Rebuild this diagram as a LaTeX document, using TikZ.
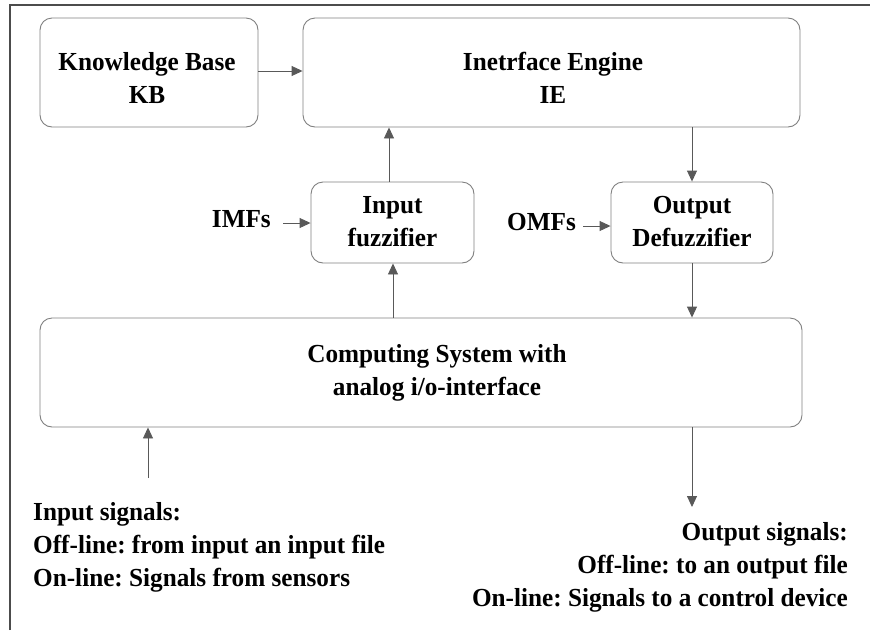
\documentclass[tikz,border=0pt]{standalone}
\usepackage{fontspec}
\setmainfont{Liberation Serif}[FakeStretch=0.97]
\usetikzlibrary{arrows.meta}
\frenchspacing
\tikzset{
  blk/.style={draw=black!50, line width=0.9pt, rounded corners=12pt, fill=white,
    inner sep=0pt, align=center},
  lbl/.style={inner sep=0pt, font=\bfseries\fontsize{26}{33}\selectfont},
  conn/.style={draw=black!65, line width=0.9pt, -{Triangle[length=11pt,width=10pt]}},
  frame/.style={draw=black!70, line width=1.2pt}
}
\begin{document}
\begin{tikzpicture}[x=1pt,y=-1pt]
  \useasboundingbox (0,0) rectangle (870,630);
  % partial outer frame
  \draw[frame] (10,630) -- (10,5) -- (870,5);

  % blocks
  \node[blk, minimum width=218pt, minimum height=109pt] (kb) at (149,72.5) {};
  \node[lbl, align=center] (kbt) at (147,78) {Knowledge Base\\KB};
  \node[blk, minimum width=497pt, minimum height=109pt] (ie) at (551.5,72.5) {};
  \node[lbl, align=center] (iet) at (553,78) {Inetrface Engine\\IE};
  \node[blk, minimum width=163pt, minimum height=81pt] (if) at (392.5,222.5) {};
  \node[lbl, align=center] (ift) at (392.5,222) {Input\\fuzzifier};
  \node[blk, minimum width=162pt, minimum height=81pt] (od) at (692,222.5) {};
  \node[lbl, align=center] (odt) at (692,222) {Output\\Defuzzifier};
  \node[blk, minimum width=762pt, minimum height=109pt] (cs) at (421,372.5) {};
  \node[lbl, align=center] (cst) at (437,373) {Computing System with\\analog i/o-interface};

  % membership function labels
  \node[lbl, anchor=east] (imf) at (271,219) {IMFs};
  \node[lbl, anchor=east] (omf) at (576,222) {OMFs};

  % external signal descriptions
  \node[lbl, anchor=north west, align=left] (ins) at (33,502)
    {Input signals:\\Off-line: from input an input file\\On-line: Signals from sensors};
  \node[lbl, anchor=north east, align=right] (outs) at (848,522)
    {Output signals:\\Off-line: to an output file\\On-line: Signals to a control device};

  \coordinate (insrc) at (148,478);
  \coordinate (outdst) at (692,507);

  % connectors
  \draw[conn] (kb.east |- 0,71) -- (ie.west |- 0,71);
  \draw[conn] (if.north -| 389,0) -- (ie.south -| 389,0);
  \draw[conn] (ie.south -| 692,0) -- (od.north);
  \draw[conn] (cs.north -| 393,0) -- (if.south -| 393,0);
  \draw[conn] (od.south) -- (cs.north -| 692,0);
  \draw[conn] (283,223) -- (if.west |- 0,223);
  \draw[conn] (583,226) -- (od.west |- 0,226);
  \draw[conn] (insrc) -- (cs.south -| insrc);
  \draw[conn] (cs.south -| outdst) -- (outdst);
\end{tikzpicture}
\end{document}
